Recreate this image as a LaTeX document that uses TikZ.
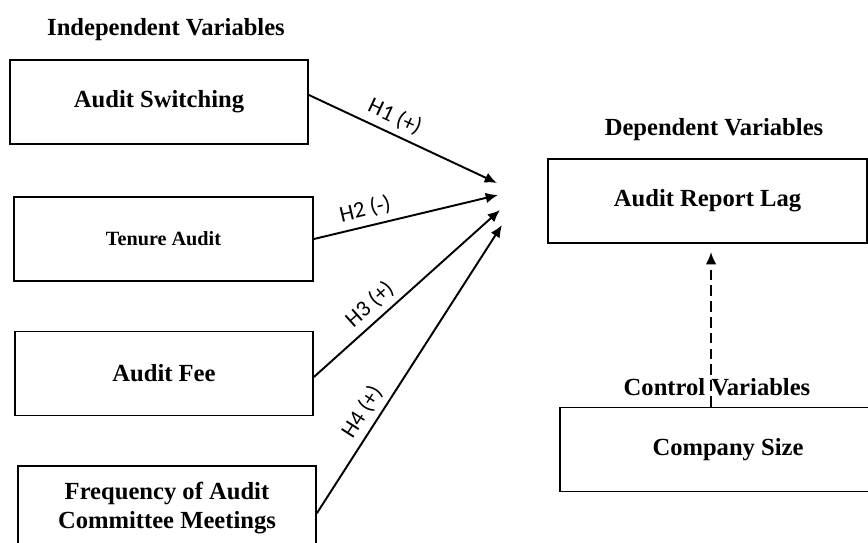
\documentclass[tikz,border=0pt]{standalone}
\usepackage{fontspec}
\setmainfont{Liberation Serif}
\newfontfamily\labelfont{Carlito}
\usetikzlibrary{arrows.meta}

\tikzset{
  varbox/.style={draw,line width=1pt,minimum width=5.96cm,minimum height=1.68cm,
                 align=center,font=\bfseries\fontsize{14}{17}\selectfont},
  vartitle/.style={font=\bfseries\fontsize{14}{17}\selectfont},
  hyp/.style={sloped,above,font=\labelfont\fontsize{13}{15}\selectfont}
}

\begin{document}
\begin{tikzpicture}[x=0.02cm,y=-0.02cm,->,>={Latex[length=7pt,width=6pt]},line width=1.1pt]
          \useasboundingbox (0,0) rectangle (868,542);

          \node[vartitle] (indep) at (166, 30) {Independent Variables};
          \node[vartitle] (dep)   at (714,130) {Dependent Variables};
          \node[vartitle] (ctrl)  at (717,387) {Control Variables};

          \node[varbox]                  (as)  at (159,102)   {Audit Switching};
          \node[varbox,minimum width=5.98cm,
                font=\bfseries\fontsize{11.5}{14}\selectfont]
                                         (ta)  at (163.5,239) {Tenure Audit};
          \node[varbox]                  (af)  at (164,373.5) {Audit Fee};
          \node[varbox]                  (fq)  at (167,508)   {Frequency of Audit\\Committee Meetings};
          \node[varbox,minimum width=6.38cm]  (arl) at (707.5,201) {Audit Report Lag};
          \node[varbox,minimum width=6.72cm]  (cs)  at (728,449.5) {Company Size};

          \coordinate (t1) at (497,183);
          \coordinate (t2) at (498,195);
          \coordinate (t3) at (500,210);
          \coordinate (t4) at (502,225);
          \coordinate (tc) at (711,252);

          \path ([yshift=4pt]as.east)  edge node[hyp,pos=.42] {H1 (+)} (t1)
                (ta.east)              edge node[hyp,pos=.30] {H2 (-)} (t2)
                ([yshift=-2pt]af.east) edge node[hyp,pos=.36] {H3 (+)} (t3)
                ([yshift=-3pt]fq.east) edge node[hyp,pos=.32] {H4 (+)} (t4)
                (tc |- cs.north)       edge [dash pattern=on 6pt off 3pt] (tc);
\end{tikzpicture}
\end{document}
